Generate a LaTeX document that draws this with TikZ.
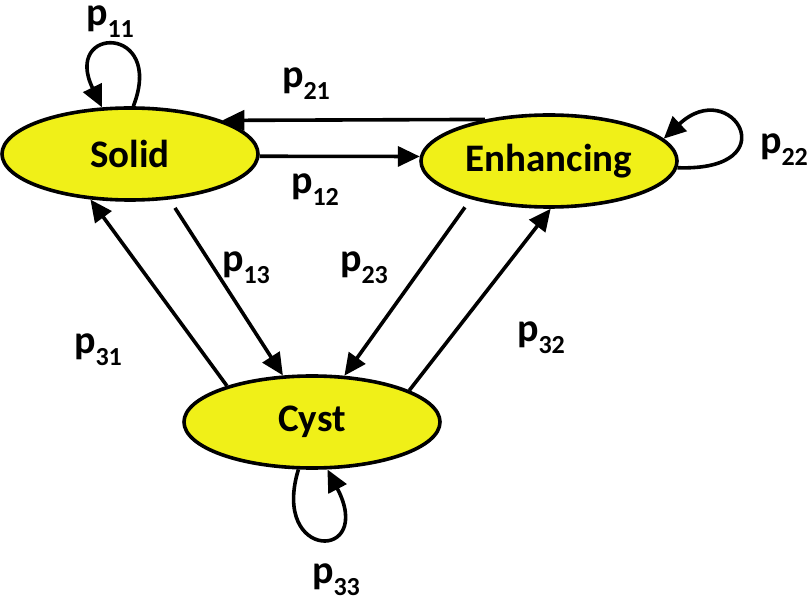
\documentclass[tikz,border=0pt]{standalone}
\usepackage{fontspec}
\setmainfont{Carlito}
\usetikzlibrary{shapes.geometric,arrows.meta}

\definecolor{stateyellow}{RGB}{240,240,24}
\newcommand{\plab}[1]{p\raisebox{-0.3em}{\fontsize{13}{14}\selectfont #1}}

\begin{document}
\begin{tikzpicture}
[x=0.5pt,y=0.5pt,
state/.style={
  ellipse, draw, line width=1.8pt, fill=stateyellow,
  minimum width=128pt, minimum height=46pt, inner sep=0pt,
  font=\bfseries\fontsize{19.5}{24}\selectfont
},
trans/.style={
  line width=1.8pt, -{Triangle[length=11pt,width=10pt]}
},
plabel/.style={
  font=\bfseries\fontsize{20}{24}\selectfont, inner sep=0pt
}
]
\useasboundingbox (0,0) rectangle (810,-604);

% States
\node[state] (solid) at (130,-154) {Solid};
\node[state] (enh) at (549,-161) {Enhancing};
\node[state] (cyst) at (312,-422) {Cyst};

% Transitions between states
\draw[trans] (enh.147.6) -- (solid.20.3);
\draw[trans] (solid.-1.4) -- (enh.178.2);
\draw[trans, shorten <=5pt] (solid.-49.4) -- (cyst.122.3);
\draw[trans, shorten <=5pt] (enh.206.5) -- (cyst.55.8);
\draw[trans] (cyst.157) -- (solid.229);
\draw[trans] (cyst.18.6) -- (enh.-88);

% Self loops
\draw[trans] (solid.86) .. controls +(16pt,41pt) and +(-20pt,41pt) .. (solid.121);
\draw[trans] (enh.-3) .. controls +(56pt,-2pt) and +(34pt,32pt) .. (enh.11);
\draw[trans] (cyst.-106) .. controls +(-14pt,-46pt) and +(24pt,-46pt) .. (cyst.-72);

% Labels
\node[plabel] (l11) at (110,-22) {\plab{11}};
\node[plabel] (l21) at (306,-84) {\plab{21}};
\node[plabel] (l12) at (315,-190) {\plab{12}};
\node[plabel] (l13) at (246,-268) {\plab{13}};
\node[plabel] (l23) at (364,-268) {\plab{23}};
\node[plabel] (l31) at (98,-350) {\plab{31}};
\node[plabel] (l32) at (541,-338) {\plab{32}};
\node[plabel] (l22) at (784,-150) {\plab{22}};
\node[plabel] (l33) at (336,-580) {\plab{33}};

\end{tikzpicture}
\end{document}
